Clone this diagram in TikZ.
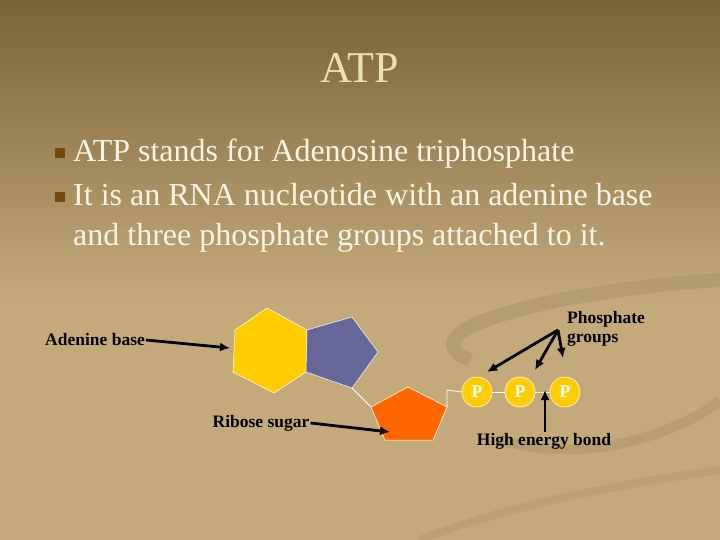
\documentclass[tikz,border=0pt]{standalone}
\usepackage{fontspec}
\setmainfont{Liberation Serif}
\usetikzlibrary{shapes.geometric,arrows.meta}
\definecolor{bgtop}{RGB}{122,98,58}
\definecolor{bgbot}{RGB}{196,170,122}
\definecolor{titlec}{RGB}{236,226,172}
\definecolor{txt}{RGB}{250,246,228}
\definecolor{bul}{RGB}{120,70,10}
\definecolor{hexc}{RGB}{255,204,0}
\definecolor{pentc}{RGB}{102,102,153}
\definecolor{oranc}{RGB}{255,102,0}
\definecolor{swirl}{RGB}{172,148,104}
\tikzset{
  lbl/.style={font=\bfseries\fontsize{17.5}{19}\selectfont, text=black, inner sep=1pt},
  arr/.style={line width=2.8pt, -{Latex[length=10pt,width=9pt]}, black},
  pcirc/.style={circle, fill=hexc, draw=white!70!hexc, line width=0.8pt, minimum size=30pt, inner sep=0pt, text=white, font=\bfseries\fontsize{18}{20}\selectfont},
  bond/.style={draw=white, line width=0.8pt},
  bullet/.style={fill=bul, minimum size=10pt, inner sep=0pt},
  body/.style={text=txt, font=\fontsize{32}{36}\selectfont, anchor=base west, inner sep=0pt}
}
\begin{document}
\begin{tikzpicture}[x=1pt,y=-1pt]
\useasboundingbox (0,0) rectangle (720,540);
\shade[top color=bgtop, bottom color=bgbot] (0,0) rectangle (720,300);
\fill[bgbot] (0,299.5) rectangle (720,540);
% faint swirl
\draw[swirl, line width=14pt, opacity=0.6] (720,280) .. controls (560,290) and (400,330) .. (470,360);
\draw[swirl, line width=10pt, opacity=0.5] (500,440) .. controls (600,470) and (700,420) .. (720,400);
\draw[swirl, line width=8pt, opacity=0.4] (420,540) .. controls (520,500) and (650,480) .. (720,470);
% title
\node[text=titlec, font=\fontsize{44}{48}\selectfont] (title) at (360,68) {ATP};
% bullets
\node[bullet] (b1) at (60,153) {};
\node[bullet] (b2) at (60,197) {};
\node[body] (t1) at (73,162) {ATP stands for Adenosine triphosphate};
\node[body] (t2) at (73,206) {It is an RNA nucleotide with an adenine base};
\node[body] (t3) at (73,245) {and three phosphate groups attached to it.};
% molecules
\fill[hexc, draw=white, line width=0.5pt] (267,308) -- (307,330) -- (306,372) -- (274,393) -- (233,372) -- (235,330) -- cycle;
\fill[pentc, draw=white, line width=0.5pt] (307,330) -- (352,317) -- (378,352) -- (352,388) -- (306,372) -- cycle;
\fill[oranc, draw=white, line width=0.5pt] (408,387) -- (447,407) -- (433,440) -- (385,440) -- (371,407) -- cycle;
\coordinate (hexL) at (230,348);
\coordinate (pentB) at (352,388);
\coordinate (oranL) at (371,407);
\coordinate (oranR) at (447,407);
\coordinate (oranIn) at (390,432);
\draw[bond] (pentB) -- (oranL);
\node[pcirc] (p1) at (477,392) {P};
\node[pcirc] (p2) at (520,392) {P};
\node[pcirc] (p3) at (565,392) {P};
\draw[bond] (oranR) -- (447,390) -- (p1.west);
\draw[bond] (p1) -- (p2);
\draw[bond] (p2) -- (p3);
% labels
\node[lbl] (aden) at (95,340) {Adenine base};
\node[lbl] (rib) at (261,423) {Ribose sugar};
\node[lbl, align=left] (phos) at (606,329) {Phosphate\\groups};
\node[lbl] (heb) at (544,441) {High energy bond};
\coordinate (apex) at (558,330);
\coordinate (bondtop) at (545,390);
\draw[arr] (aden.east) -- (hexL);
\draw[arr] (rib.east) -- (oranIn);
\draw[arr] (apex) -- (487,372);
\draw[arr] (apex) -- (535,370);
\draw[arr] (apex) -- (563,358);
\draw[arr] (heb.north -| bondtop) -- (bondtop);
\end{tikzpicture}
\end{document}
